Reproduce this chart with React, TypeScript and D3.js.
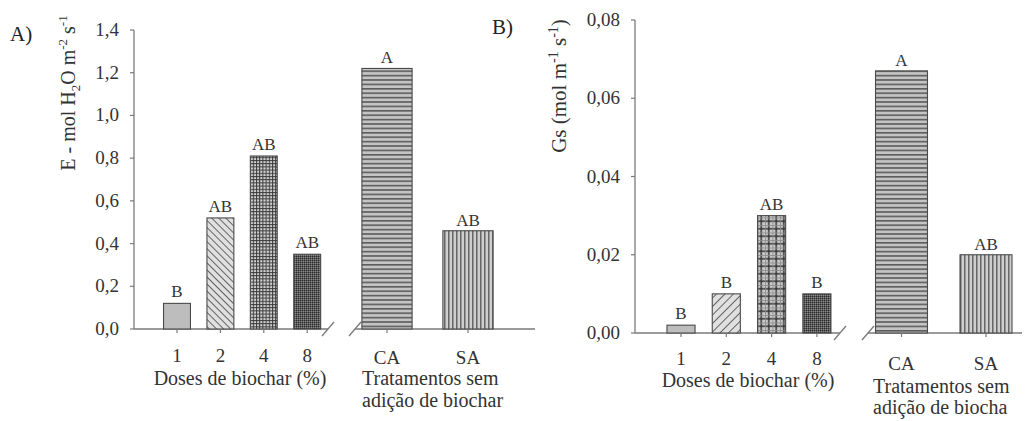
import React from "react";
import * as d3 from "d3";

const doseCats = ["1", "2", "4", "8"];
const treatCats = ["CA", "SA"];

const eDoses = [0.12, 0.52, 0.81, 0.35];
const eTreat = [1.22, 0.46];
const eDoseLetters = ["B", "AB", "AB", "AB"];
const eTreatLetters = ["A", "AB"];
const eTicks = [0, 0.2, 0.4, 0.6, 0.8, 1.0, 1.2, 1.4];

const gsDoses = [0.002, 0.01, 0.03, 0.01];
const gsTreat = [0.067, 0.02];
const gsDoseLetters = ["B", "B", "AB", "B"];
const gsTreatLetters = ["A", "AB"];
const gsTicks = [0, 0.02, 0.04, 0.06, 0.08];

const FONT = "Liberation Serif, Tinos, Times New Roman, serif";
const AXIS = "#7a7a7a";
const TXT = "#333";
const BAR_STROKE = "#4a4a4a";

function band(domain: string[], c0: number, step: number, pi: number) {
  const start = c0 - step / 2;
  return d3
    .scaleBand<string>()
    .domain(domain)
    .range([start, start + step * domain.length])
    .paddingInner(pi)
    .paddingOuter(pi / 2);
}

type PanelProps = {
  id: string;
  label: string;
  labelX: number;
  labelY: number;
  axisX: number;
  y0: number;
  y1: number;
  max: number;
  ticks: number[];
  decimals: number;
  doseVals: number[];
  treatVals: number[];
  doseLetters: string[];
  treatLetters: string[];
  doseC0: number;
  doseStep: number;
  dosePi: number;
  treatC0: number;
  treatStep: number;
  treatPi: number;
  seg1End: number;
  seg2Start: number;
  seg2End: number;
  dosesLabelX: number;
  digitsY: number;
  dosesY: number;
  caY: number;
  tratX: number;
  tratY1: number;
  tratY2: number;
  line2: string;
  titleX: number;
  titleY: number;
  titleSize: number;
  title: React.ReactNode;
  diagDir: number;
  coarseGrid: boolean;
};

function Panel(p: PanelProps) {
  const y = d3.scaleLinear().domain([0, p.max]).range([p.y0, p.y1]);
  const xd = band(doseCats, p.doseC0, p.doseStep, p.dosePi);
  const xt = band(treatCats, p.treatC0, p.treatStep, p.treatPi);
  const fmt = (v: number) => v.toFixed(p.decimals).replace(".", ",");
  const base = y(0);
  const doseFills = [
    "#bdbdbd",
    `url(#${p.id}-diag)`,
    `url(#${p.id}-grid)`,
    `url(#${p.id}-dots)`,
  ];
  const treatFills = [`url(#${p.id}-hlines)`, `url(#${p.id}-vlines)`];
  const slash = (cx: number) => (
    <line x1={cx - 6} y1={base + 7} x2={cx + 6} y2={base - 7} stroke={AXIS} strokeWidth={1.3} />
  );
  return (
    <g style={{ fontFamily: FONT }}>
      <defs>
        <pattern id={`${p.id}-diag`} width={p.id === "a" ? 5 : 6} height={p.id === "a" ? 5 : 6}
          patternUnits="userSpaceOnUse" patternTransform={`rotate(${p.diagDir})`}>
          <rect width={10} height={10} fill="#e0e0e0" />
          <line x1={0} y1={0} x2={0} y2={10} stroke="#555" strokeWidth={1.8} />
        </pattern>
        {p.coarseGrid ? (
          <pattern id={`${p.id}-grid`} width={7.5} height={7.5} patternUnits="userSpaceOnUse">
            <rect width={8} height={8} fill="#c8c8c8" />
            <line x1={3.75} y1={0} x2={3.75} y2={8} stroke="#2e2e2e" strokeWidth={1.4} />
            <line x1={0} y1={3.75} x2={8} y2={3.75} stroke="#2e2e2e" strokeWidth={1.4} />
            <line x1={0.5} y1={0} x2={0.5} y2={8} stroke="#8a8a8a" strokeWidth={0.8} />
            <line x1={0} y1={0.5} x2={8} y2={0.5} stroke="#8a8a8a" strokeWidth={0.8} />
          </pattern>
        ) : (
          <pattern id={`${p.id}-grid`} width={3.2} height={3.2} patternUnits="userSpaceOnUse">
            <rect width={4} height={4} fill="#d0d0d0" />
            <line x1={0.5} y1={0} x2={0.5} y2={4} stroke="#3a3a3a" strokeWidth={1} />
            <line x1={0} y1={0.5} x2={4} y2={0.5} stroke="#3a3a3a" strokeWidth={1} />
          </pattern>
        )}
        <pattern id={`${p.id}-dots`} width={2} height={2} patternUnits="userSpaceOnUse">
          <rect width={2} height={2} fill="#5a5a5a" />
          <rect width={1} height={1} fill="#2a2a2a" />
          <rect x={1} y={1} width={1} height={1} fill="#8a8a8a" />
        </pattern>
        <pattern id={`${p.id}-hlines`} width={4} height={4.4} patternUnits="userSpaceOnUse">
          <rect width={4} height={5} fill="#c4c4c4" />
          <line x1={0} y1={0.8} x2={4} y2={0.8} stroke="#555" strokeWidth={1.5} />
        </pattern>
        <pattern id={`${p.id}-vlines`} width={4} height={4} patternUnits="userSpaceOnUse">
          <rect width={5} height={4} fill="#cfcfcf" />
          <line x1={0.8} y1={0} x2={0.8} y2={4} stroke="#555" strokeWidth={1.3} />
        </pattern>
      </defs>

      {/* panel label */}
      <text x={p.labelX} y={p.labelY} fontSize={21} fill="#222">{p.label}</text>

      {/* y title */}
      <text transform={`translate(${p.titleX},${p.titleY}) rotate(-90)`} textAnchor="middle"
        fontSize={p.titleSize} fill={TXT}>{p.title}</text>

      {/* y axis */}
      <line x1={p.axisX} x2={p.axisX} y1={y(p.max)} y2={base} stroke={AXIS} strokeWidth={1.3} />
      {p.ticks.map((t) => (
        <g key={t}>
          <line x1={p.axisX - 4} x2={p.axisX} y1={y(t)} y2={y(t)} stroke={AXIS} strokeWidth={1.2} />
          <text x={p.axisX - 15} y={y(t) + 6} textAnchor="end" fontSize={19} fill={TXT}>
            {fmt(t)}
          </text>
        </g>
      ))}

      {/* baseline segments with breaks */}
      <line x1={p.axisX} x2={p.seg1End} y1={base} y2={base} stroke={AXIS} strokeWidth={1.3} />
      {slash(p.seg1End)}
      <line x1={p.seg2Start} x2={p.seg2End} y1={base} y2={base} stroke={AXIS} strokeWidth={1.3} />
      {slash(p.seg2Start)}

      {/* dose bars */}
      {doseCats.map((c, i) => {
        const x = xd(c)!;
        const w = xd.bandwidth();
        const top = y(p.doseVals[i]);
        return (
          <g key={c}>
            <rect x={x} y={top} width={w} height={base - top} fill={doseFills[i]} stroke={BAR_STROKE} strokeWidth={1.1} />
            <text x={x + w / 2} y={top - 6} textAnchor="middle" fontSize={17} fill={TXT}>
              {p.doseLetters[i]}
            </text>
            <line x1={x + w / 2} x2={x + w / 2} y1={base} y2={base + 4} stroke={AXIS} strokeWidth={1.2} />
            <text x={x + w / 2} y={p.digitsY} textAnchor="middle" fontSize={19} fill={TXT}>{c}</text>
          </g>
        );
      })}

      {/* treatment bars */}
      {treatCats.map((c, i) => {
        const x = xt(c)!;
        const w = xt.bandwidth();
        const top = y(p.treatVals[i]);
        return (
          <g key={c}>
            <rect x={x} y={top} width={w} height={base - top} fill={treatFills[i]} stroke={BAR_STROKE} strokeWidth={1.1} />
            <text x={x + w / 2} y={top - 5} textAnchor="middle" fontSize={17} fill={TXT}>
              {p.treatLetters[i]}
            </text>
            <line x1={x + w / 2} x2={x + w / 2} y1={base} y2={base + 4} stroke={AXIS} strokeWidth={1.2} />
            <text x={x + w / 2} y={p.caY} textAnchor="middle" fontSize={19} fill={TXT}>{c}</text>
          </g>
        );
      })}

      <text x={p.dosesLabelX} y={p.dosesY} textAnchor="middle" fontSize={20} fill={TXT}>
        Doses de biochar (%)
      </text>
      <text x={p.tratX} y={p.tratY1} fontSize={20} fill={TXT}>Tratamentos sem</text>
      <text x={p.tratX} y={p.tratY2} fontSize={20} fill={TXT}>{p.line2}</text>
    </g>
  );
}

export default function App() {
  return (
    <svg width={1027} height={421} style={{ position: "absolute", left: 0, top: 0, background: "#fff" }}>
      <rect width={1027} height={421} fill="#fff" />
      <Panel
        id="a" label="A)" labelX={10} labelY={41}
        axisX={134} y0={329} y1={30} max={1.4} ticks={eTicks} decimals={1}
        doseVals={eDoses} treatVals={eTreat} doseLetters={eDoseLetters} treatLetters={eTreatLetters}
        doseC0={177} doseStep={43.4} dosePi={0.38}
        treatC0={387} treatStep={81} treatPi={0.38}
        seg1End={328} seg2Start={355} seg2End={535}
        dosesLabelX={240} digitsY={362} dosesY={385}
        caY={364} tratX={362} tratY1={385} tratY2={407} line2="adição de biochar"
        titleX={75} titleY={93} titleSize={20}
        title={<>
          E - mol H<tspan dy={5} fontSize={13}>2</tspan><tspan dy={-5}>O m</tspan>
          <tspan dy={-8} fontSize={13}>-2</tspan><tspan dy={8}> s</tspan>
          <tspan dy={-8} fontSize={13}>-1</tspan>
        </>}
        diagDir={-45} coarseGrid={false}
      />
      <Panel
        id="b" label="B)" labelX={492} labelY={34}
        axisX={635} y0={333} y1={20} max={0.08} ticks={gsTicks} decimals={2}
        doseVals={gsDoses} treatVals={gsTreat} doseLetters={gsDoseLetters} treatLetters={gsTreatLetters}
        doseC0={681} doseStep={45.3} dosePi={0.38}
        treatC0={901.5} treatStep={84.5} treatPi={0.385}
        seg1End={840} seg2Start={868} seg2End={1022}
        dosesLabelX={748} digitsY={365} dosesY={387}
        caY={370} tratX={873} tratY1={393} tratY2={414} line2="adição de biocha"
        titleX={566} titleY={86} titleSize={21}
        title={<>
          Gs (mol m<tspan dy={-8} fontSize={14}>-1</tspan><tspan dy={8}> s</tspan>
          <tspan dy={-8} fontSize={14}>-1</tspan><tspan dy={8}>)</tspan>
        </>}
        diagDir={45} coarseGrid={true}
      />
    </svg>
  );
}
